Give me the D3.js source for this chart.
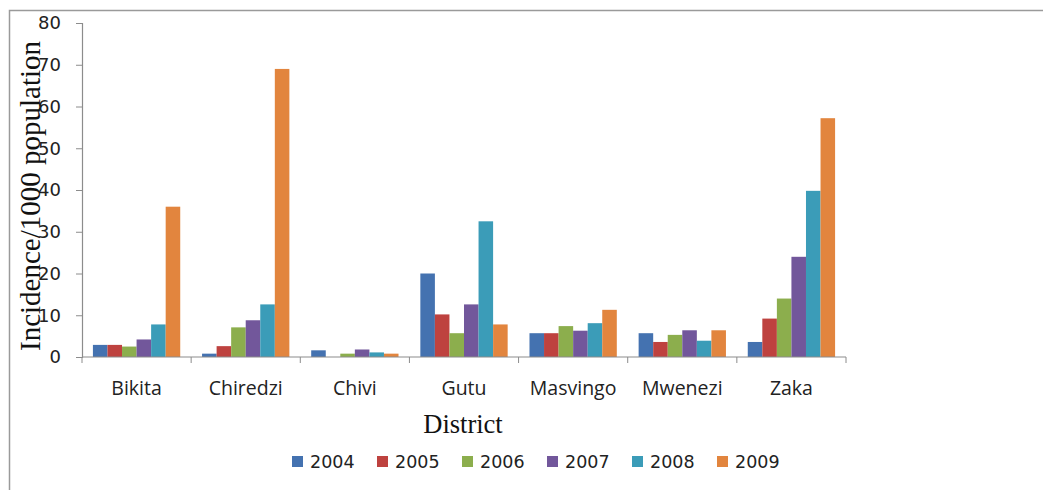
<!DOCTYPE html>
<html>
<head>
<meta charset="utf-8">
<script src="https://cdn.jsdelivr.net/npm/d3@7"></script>
<style>
  body { margin: 0; background: #fff; }
</style>
</head>
<body>
<div id="chart"></div>
<script>
// Chart data
const DISTRICTS = ["Bikita", "Chiredzi", "Chivi", "Gutu", "Masvingo", "Mwenezi", "Zaka"];
const YEARS = ["2004", "2005", "2006", "2007", "2008", "2009"];
const Y_TICKS = [0, 10, 20, 30, 40, 50, 60, 70, 80];
// one array per year, values in district order
const V2004 = [2.9, 0.8, 1.6, 20.0, 5.7, 5.7, 3.6];
const V2005 = [2.9, 2.6, 0.0, 10.2, 5.7, 3.6, 9.2];
const V2006 = [2.5, 7.1, 0.8, 5.7, 7.4, 5.3, 14.0];
const V2007 = [4.2, 8.8, 1.8, 12.6, 6.3, 6.4, 24.0];
const V2008 = [7.8, 12.6, 1.1, 32.5, 8.1, 3.9, 39.8];
const V2009 = [36.0, 69.0, 0.8, 7.8, 11.3, 6.4, 57.2];
const SERIES = [V2004, V2005, V2006, V2007, V2008, V2009];

const COLORS = ["#4472B0", "#BE423F", "#8CAE4D", "#72579B", "#3B9CB8", "#E2853E"];

var width = 1043;
var height = 490;
var margin = { left: 82, right: 197, top: 23, bottom: 133 };

var svg = d3
  .select("#chart")
  .append("svg")
  .attr("width", width)
  .attr("height", height);

// Frame (only top and left edges visible)
svg.append("path")
  .attr("d", `M9.5,${height} V10.5 H${width}`)
  .attr("fill", "none")
  .attr("stroke", "#9a9a9a")
  .attr("stroke-width", 1.5);

// Scales
var x0 = d3
  .scaleBand()
  .domain(DISTRICTS)
  .range([margin.left, width - margin.right])
  .paddingInner(0.2)
  .paddingOuter(0.1);

var x1 = d3
  .scaleBand()
  .domain(YEARS)
  .range([0, x0.bandwidth()]);

var y = d3
  .scaleLinear()
  .domain([0, 80])
  .range([height - margin.bottom, margin.top]);

// Bars
var groups = svg
  .selectAll("g.district")
  .data(DISTRICTS)
  .enter()
  .append("g")
  .attr("class", "district")
  .attr("transform", (d) => `translate(${x0(d)},0)`);

groups
  .selectAll("rect")
  .data((d, i) => YEARS.map((yr, j) => ({ year: yr, value: SERIES[j][i], j: j })))
  .enter()
  .append("rect")
  .attr("x", (d) => x1(d.year))
  .attr("y", (d) => y(d.value))
  .attr("width", x1.bandwidth())
  .attr("height", (d) => y(0) - y(d.value))
  .attr("fill", (d) => COLORS[d.j]);

// Y axis
var yAxis = svg
  .append("g")
  .attr("transform", `translate(${margin.left},0)`)
  .call(d3.axisLeft(y).tickValues(Y_TICKS).tickSize(6).tickPadding(15));
yAxis.select(".domain").attr("stroke", "#8c8c8c").attr("stroke-width", 1.2);
yAxis.selectAll(".tick line").attr("stroke", "#8c8c8c");
yAxis.selectAll("text")
  .attr("font-family", "'DejaVu Sans', sans-serif")
  .attr("font-size", 18)
  .attr("fill", "#222");

// X axis: ticks at category boundaries
var xLine = svg.append("g");
xLine.append("line")
  .attr("x1", margin.left)
  .attr("x2", width - margin.right)
  .attr("y1", y(0))
  .attr("y2", y(0))
  .attr("stroke", "#8c8c8c")
  .attr("stroke-width", 1.2);
var step = x0.step();
var bounds = d3.range(DISTRICTS.length + 1).map((i) => margin.left + i * step);
xLine.selectAll("line.tick")
  .data(bounds)
  .enter()
  .append("line")
  .attr("class", "tick")
  .attr("x1", (d) => d)
  .attr("x2", (d) => d)
  .attr("y1", y(0))
  .attr("y2", y(0) + 6)
  .attr("stroke", "#8c8c8c");

svg.selectAll("text.cat")
  .data(DISTRICTS)
  .enter()
  .append("text")
  .attr("class", "cat")
  .attr("x", (d) => x0(d) + x0.bandwidth() / 2)
  .attr("y", 395)
  .attr("text-anchor", "middle")
  .attr("font-family", "'Open Sans', 'Liberation Sans', sans-serif")
  .attr("font-size", 19.5)
  .attr("fill", "#222")
  .text((d) => d);

// Axis titles
svg.append("text")
  .attr("transform", "translate(40,196) rotate(-90)")
  .attr("text-anchor", "middle")
  .attr("font-family", "'Liberation Serif', 'Times New Roman', serif")
  .attr("font-size", 29)
  .attr("fill", "#111")
  .text("Incidence/1000  population");

svg.append("text")
  .attr("x", 463)
  .attr("y", 433)
  .attr("text-anchor", "middle")
  .attr("font-family", "'Liberation Serif', 'Times New Roman', serif")
  .attr("font-size", 26.5)
  .attr("fill", "#111")
  .text("District");

// Legend
var legend = svg
  .selectAll("g.legend")
  .data(YEARS)
  .enter()
  .append("g")
  .attr("class", "legend")
  .attr("transform", (d, i) => `translate(${292 + i * 85},456)`);

legend.append("rect")
  .attr("width", 11)
  .attr("height", 11)
  .attr("fill", (d, i) => COLORS[i]);

legend.append("text")
  .attr("x", 18)
  .attr("y", 12)
  .attr("font-family", "'DejaVu Sans', sans-serif")
  .attr("font-size", 17.5)
  .attr("fill", "#222")
  .text((d) => d);
</script>
</body>
</html>
